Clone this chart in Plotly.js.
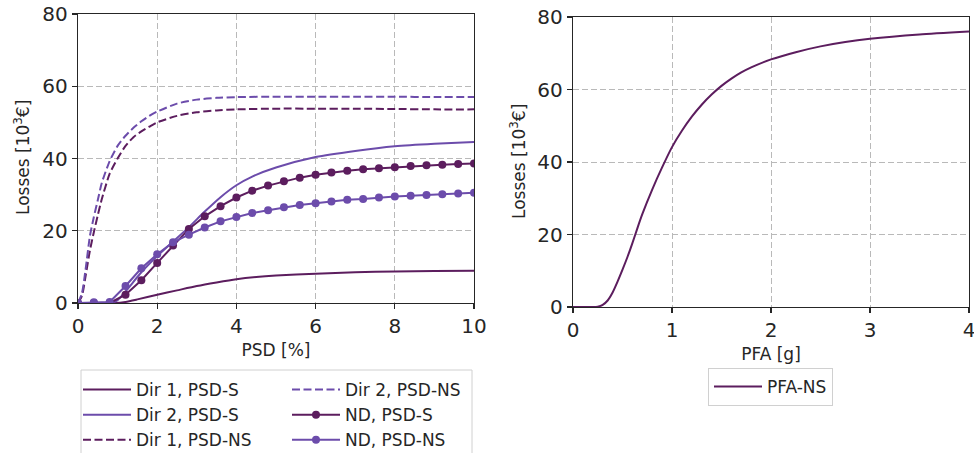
<!DOCTYPE html>
<html>
<head>
<meta charset="utf-8">
<script src="https://cdn.plot.ly/plotly-3.0.1.min.js"></script>
<style>html,body{margin:0;padding:0;background:#fff;}#chart{width:974px;height:453px;}</style>
</head>
<body>
<div id="chart"></div>
<script>
// ---- Data ----
const dir1S_x = [0, 0.5, 0.9, 1.2, 1.5, 2.0, 2.5, 3.0, 3.5, 4.0, 4.5, 5, 6, 7, 8, 9, 10];
const dir1S_y = [0, 0, 0, 0.3, 1.0, 2.3, 3.5, 4.7, 5.7, 6.6, 7.2, 7.6, 8.1, 8.5, 8.75, 8.85, 8.9];

const dir2S_x = [0, 0.5, 0.8, 1.0, 1.2, 1.6, 2.0, 2.4, 2.8, 3.2, 3.6, 4.0, 4.4, 5, 6, 7, 8, 9, 10];
const dir2S_y = [0, 0, 0, 0.8, 3.2, 8.5, 13.0, 17.0, 21.0, 25.3, 29.3, 32.6, 35.0, 37.5, 40.4, 42.1, 43.4, 44.1, 44.6];

const dir1NS_x = [0, 0.1, 0.2, 0.3, 0.4, 0.5, 0.6, 0.8, 1.0, 1.2, 1.4, 1.6, 1.8, 2.0, 2.5, 3.0, 3.5, 4, 5, 6, 7, 8, 9, 10];
const dir1NS_y = [0, 2, 8, 14.5, 19.6, 24.3, 28.7, 35.8, 40, 43.5, 45.9, 47.5, 48.8, 50, 51.8, 52.8, 53.3, 53.6, 53.8, 53.8, 53.8, 53.7, 53.6, 53.6];

const dir2NS_x = [0, 0.1, 0.2, 0.3, 0.4, 0.5, 0.6, 0.8, 1.0, 1.2, 1.4, 1.6, 1.8, 2.0, 2.5, 3.0, 3.5, 4, 5, 6, 7, 8, 9, 10];
const dir2NS_y = [0, 2.7, 10, 18.5, 23.8, 28.5, 33.2, 39.3, 43.5, 46.3, 48.5, 50.3, 51.8, 53.0, 55.2, 56.3, 56.8, 57.0, 57.1, 57.1, 57.1, 57.1, 57.0, 57.0];

const nd_x = [0, 0.4, 0.8, 1.2, 1.6, 2.0, 2.4, 2.8, 3.2, 3.6, 4.0, 4.4, 4.8, 5.2, 5.6, 6.0, 6.4, 6.8, 7.2, 7.6, 8.0, 8.4, 8.8, 9.2, 9.6, 10.0];
const ndS_y  = [0, 0, 0, 2.3, 6.3, 11.1, 15.9, 20.5, 24.0, 26.8, 29.2, 31.1, 32.5, 33.7, 34.7, 35.5, 36.1, 36.6, 37.0, 37.3, 37.6, 37.9, 38.1, 38.3, 38.5, 38.6];
const ndNS_y = [0, 0.2, 0.3, 4.7, 9.6, 13.5, 16.8, 18.9, 20.9, 22.6, 23.8, 24.9, 25.7, 26.5, 27.1, 27.6, 28.1, 28.6, 28.8, 29.2, 29.5, 29.7, 29.9, 30.1, 30.3, 30.5];

const pfa_x = [0, 0.1, 0.2, 0.25, 0.3, 0.35, 0.4, 0.45, 0.5, 0.55, 0.6, 0.65, 0.7, 0.8, 0.9, 1.0, 1.1, 1.2, 1.3, 1.4, 1.5, 1.6, 1.7, 1.8, 2.0, 2.25, 2.5, 2.75, 3.0, 3.5, 4.0];
const pfa_y = [0, 0, 0, 0.1, 0.6, 1.8, 4.0, 7.0, 10.3, 13.8, 17.6, 21.7, 25.6, 32.4, 38.5, 44.1, 48.6, 52.5, 55.8, 58.6, 61.0, 63.0, 64.7, 66.1, 68.3, 70.3, 71.9, 73.1, 74.0, 75.2, 76.0];

const xTicksL = [0, 2, 4, 6, 8, 10];
const xTicksR = [0, 1, 2, 3, 4];
const yTicks = [0, 20, 40, 60, 80];
const yTitle = 'Losses [10<sup>3</sup>€]';

// ---- Styles ----
const DARK = '#5c1d5e';
const LIGHT = '#6c4cab';
const TXT = '#262626';
const W = 974, H = 453;
const DASH = '8px,3.5px';

const traces = [
  {x: dir1S_x, y: dir1S_y, name: 'Dir 1, PSD-S', mode: 'lines', line: {color: DARK, width: 2, shape: 'spline', smoothing: 0.6}, xaxis: 'x', yaxis: 'y', legend: 'legend'},
  {x: dir2S_x, y: dir2S_y, name: 'Dir 2, PSD-S', mode: 'lines', line: {color: LIGHT, width: 2, shape: 'spline', smoothing: 0.6}, xaxis: 'x', yaxis: 'y', legend: 'legend'},
  {x: dir1NS_x, y: dir1NS_y, name: 'Dir 1, PSD-NS', mode: 'lines', line: {color: DARK, width: 2, dash: DASH, shape: 'spline', smoothing: 0.6}, xaxis: 'x', yaxis: 'y', legend: 'legend'},
  {x: dir2NS_x, y: dir2NS_y, name: 'Dir 2, PSD-NS', mode: 'lines', line: {color: LIGHT, width: 2, dash: DASH, shape: 'spline', smoothing: 0.6}, xaxis: 'x', yaxis: 'y', legend: 'legend2'},
  {x: nd_x, y: ndS_y, name: 'ND, PSD-S', mode: 'lines+markers', line: {color: DARK, width: 2}, marker: {color: DARK, size: 8}, xaxis: 'x', yaxis: 'y', legend: 'legend2'},
  {x: nd_x, y: ndNS_y, name: 'ND, PSD-NS', mode: 'lines+markers', line: {color: LIGHT, width: 2}, marker: {color: LIGHT, size: 8}, xaxis: 'x', yaxis: 'y', legend: 'legend2'},
  {x: pfa_x, y: pfa_y, name: 'PFA-NS', mode: 'lines', line: {color: DARK, width: 2, shape: 'spline', smoothing: 0.6}, xaxis: 'x2', yaxis: 'y2', legend: 'legend3'}
];

function axisBase(extra) {
  return Object.assign({
    showline: true, mirror: true, linecolor: TXT, linewidth: 1.2,
    ticks: 'outside', ticklen: 5, tickwidth: 1.2, tickcolor: TXT,
    tickfont: {family: 'DejaVu Sans', size: 20, color: TXT}, ticklabeloverflow: 'allow',
    showgrid: true, gridcolor: '#b9b9b9', gridwidth: 1, griddash: '6px,3px',
    zeroline: false, automargin: false, fixedrange: true
  }, extra);
}

const titleFont = {family: 'DejaVu Sans', size: 17, color: TXT};
const legFont = {family: 'DejaVu Sans', size: 17, color: TXT};

const legBase = {xanchor: 'left', yanchor: 'top', orientation: 'v',
  font: legFont, itemwidth: 48, tracegroupgap: 0};

const layout = {
  width: W, height: H,
  margin: {l: 0, r: 0, t: 0, b: 0, autoexpand: false},
  paper_bgcolor: '#fff', plot_bgcolor: '#fff',
  font: {family: 'DejaVu Sans', color: TXT},
  xaxis: axisBase({domain: [78 / W, 474 / W], range: [0, 10], tickvals: xTicksL, anchor: 'y',
    title: {text: 'PSD [%]', font: titleFont, standoff: 6}}),
  yaxis: axisBase({domain: [(H - 303) / H, (H - 14) / H], range: [0, 80], tickvals: yTicks, anchor: 'x'}),
  xaxis2: axisBase({domain: [573 / W, 969 / W], range: [0, 4], tickvals: xTicksR, anchor: 'y2',
    title: {text: 'PFA [g]', font: titleFont, standoff: 6}}),
  yaxis2: axisBase({domain: [(H - 307) / H, (H - 17) / H], range: [0, 80], tickvals: yTicks, anchor: 'x2'}),
  showlegend: true,
  legend: Object.assign({}, legBase, {x: 78 / W, y: (H - 372) / H, bgcolor: 'rgba(0,0,0,0)', borderwidth: 0}),
  legend2: Object.assign({}, legBase, {x: 287 / W, y: (H - 372) / H, bgcolor: 'rgba(0,0,0,0)', borderwidth: 0}),
  legend3: Object.assign({}, legBase, {x: 708 / W, y: (H - 368) / H, bgcolor: '#fff', bordercolor: '#d0d0d0', borderwidth: 1}),
  annotations: [
    {text: yTitle, xref: 'paper', yref: 'paper', x: 22 / W, y: (H - 158) / H, xanchor: 'center', yanchor: 'middle',
      textangle: -90, showarrow: false, font: titleFont},
    {text: yTitle, xref: 'paper', yref: 'paper', x: 518 / W, y: (H - 162) / H, xanchor: 'center', yanchor: 'middle',
      textangle: -90, showarrow: false, font: titleFont}
  ],
  shapes: [
    {type: 'rect', xref: 'paper', yref: 'paper', x0: 81 / W, x1: 472 / W, y0: (H - 456) / H, y1: (H - 370) / H,
      line: {color: '#d0d0d0', width: 1}, fillcolor: 'rgba(0,0,0,0)', layer: 'below'}
  ]
};

Plotly.newPlot('chart', traces, layout, {displayModeBar: false, staticPlot: true});
</script>
</body>
</html>
